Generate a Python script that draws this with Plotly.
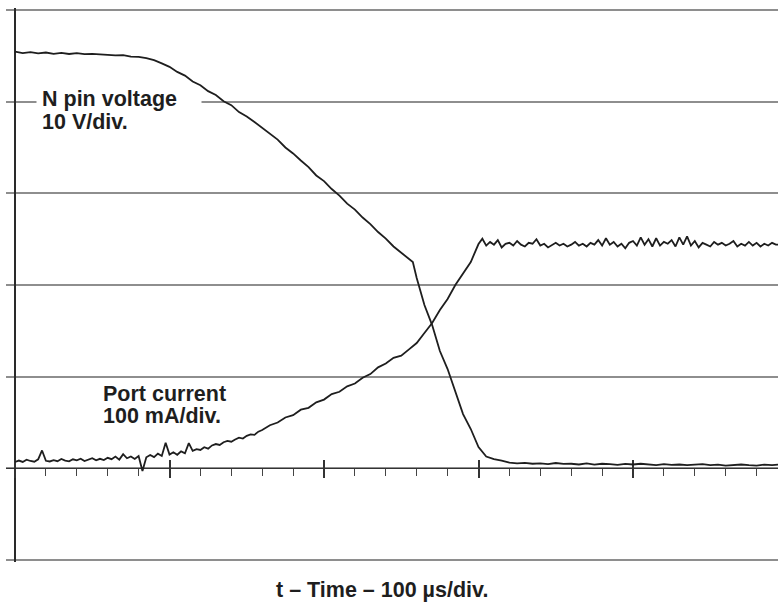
import plotly.graph_objects as go

# ---------------- data ----------------
# N pin voltage, volts (10 V/div), time in microseconds (100 us/div)
v_time = [0, 5, 10, 15, 20, 25, 30, 35, 40, 45, 50, 55, 60, 65, 70, 75, 80, 85,
          90, 95, 100, 105, 110, 115, 120, 125, 130, 135, 140, 145, 150, 155,
          160, 165, 170, 175, 180, 185, 190, 195, 200, 205, 210, 215, 220, 225,
          230, 235, 240, 245, 250, 255, 257.5, 260, 265, 270, 275, 280, 285, 290,
          295, 300, 305, 310, 315, 320, 325, 330, 335, 340, 345, 350, 355, 360,
          365, 370, 375, 380, 385, 390, 395, 400, 405, 410, 415, 420, 425, 430,
          435, 440, 445, 450, 455, 460, 465, 470, 475, 480, 485, 490, 494]
v_volts = [45.45, 45.30, 45.41, 45.26, 45.36, 45.22, 45.32, 45.20, 45.30, 45.18,
           45.21, 45.12, 45.10, 45.05, 45.08, 44.92, 44.89, 44.74, 44.52, 44.18,
           43.80, 43.25, 42.84, 42.20, 41.80, 41.15, 40.72, 40.05, 39.62, 38.86,
           38.38, 37.78, 37.16, 36.50, 35.86, 35.00, 34.35, 33.58, 32.86, 31.95,
           31.33, 30.47, 29.75, 28.88, 28.23, 27.36, 26.65, 25.78, 25.06, 24.20,
           23.52, 22.80, 22.50, 20.76, 17.81, 15.63, 12.80, 10.83, 8.32, 5.92,
           4.29, 2.32, 1.29, 1.01, 0.85, 0.62, 0.55, 0.60, 0.50, 0.55, 0.45,
           0.58, 0.48, 0.50, 0.42, 0.55, 0.40, 0.50, 0.45, 0.38, 0.48, 0.42,
           0.50, 0.40, 0.35, 0.45, 0.38, 0.42, 0.35, 0.40, 0.45, 0.35, 0.40,
           0.30, 0.38, 0.42, 0.35, 0.30, 0.40, 0.35, 0.40]

# Port current, milliamps (100 mA/div)
i_time = [0, 2.5, 5, 7.5, 10, 12.5, 15, 17.5, 20, 22.5, 25, 27.5, 30, 32.5, 35,
          37.5, 40, 42.5, 45, 47.5, 50, 52.5, 55, 57.5, 60, 62.5, 65, 67.5, 70,
          72.5, 75, 77.5, 80, 82.5, 85, 87.5, 90, 92.5, 95, 97.5, 100, 102.5,
          105, 107.5, 110, 112.5, 115, 117.5, 120, 122.5, 125, 127.5, 130, 132.5,
          135, 137.5, 140, 142.5, 145, 147.5, 150, 152.5, 155, 157.5,
          160, 165, 170, 175, 180, 185, 190, 195, 200, 205, 210, 215, 220, 225,
          230, 235, 240, 245, 250, 255, 260, 265, 270, 275, 280, 285, 290, 295,
          300, 302.5,
          305, 307.5, 310, 312.5, 315, 317.5, 320, 322.5, 325, 327.5, 330, 332.5,
          335, 337.5, 340, 342.5, 345, 347.5, 350, 352.5, 355, 357.5, 360, 362.5,
          365, 367.5, 370, 372.5, 375, 377.5, 380, 382.5, 385, 387.5, 390, 392.5,
          395, 397.5, 400, 402.5, 405, 407.5, 410, 412.5, 415, 417.5, 420, 422.5,
          425, 427.5, 430, 432.5, 435, 437.5, 440, 442.5, 445, 447.5, 450, 452.5,
          455, 457.5, 460, 462.5, 465, 467.5, 470, 472.5, 475, 477.5, 480, 482.5,
          485, 487.5, 490, 492.5, 494]
i_ma = [6.9, 8.5, 7.0, 9.5, 8.0, 7.2, 9.8, 19.5, 8.2, 7.5, 9.0, 7.8, 10.2, 8.4,
        7.6, 9.9, 8.8, 10.5, 8.0, 9.6, 11.0, 8.7, 10.4, 9.1, 11.5, 10.0, 12.8,
        9.5, 15.5, 11.0, 13.0, 10.2, 13.5, -3.0, 12.0, 14.5, 12.2, 16.0, 13.5,
        28.0, 15.0, 17.5, 14.8, 18.5, 16.5, 27.5, 19.0, 21.0, 20.0, 23.0, 21.5,
        25.0, 26.5, 25.5, 28.5, 30.0, 29.0, 31.5, 33.5, 32.5, 35.5, 37.0, 36.5,
        40.0,
        41.8, 47.0, 50.0, 55.5, 58.0, 64.0, 66.0, 72.0, 75.0, 81.0, 83.5, 89.5,
        92.5, 98.8, 102.8, 110.2, 114.3, 120.6, 123.0, 129.8, 136.7, 147.6,
        158.5, 172.7, 184.7, 200.0, 213.1, 225.1, 244.7, 250.5,
        243, 247, 244, 249, 241, 245, 246, 243, 248, 244, 242, 246, 245, 250,
        243, 245, 241, 244, 246, 243, 245, 242, 244, 247, 243, 245, 242, 246,
        244, 249, 243, 251, 244, 247, 242, 245, 240, 246, 248, 243, 252, 244,
        250, 242, 251, 243, 247, 245, 249, 242, 252, 244, 253, 243, 248, 241,
        246, 244, 242, 247, 244, 246, 243, 245, 248, 242, 245, 243, 247, 243,
        246, 242, 245, 243, 246, 244, 244]

x_title = "t – Time – 100 µs/div."
v_label = ["N pin voltage", "10 V/div."]
i_label = ["Port current", "100 mA/div."]

# ---------------- layout geometry ----------------
W, H = 778, 603
PAD = 2                    # extra px so edge grid lines are drawn
ML, MR, MT, MB = 6, 0, 10 - PAD, 43 - PAD
PX_PER_US = 1.545          # 154.5 px per 100 us division
PX_PER_DIV_Y = 550 / 6     # vertical division height
AXIS_X_PX = 15             # pixel column of t = 0
plot_w = W - ML - MR
plot_h = H - MT - MB
x_lo = (ML - AXIS_X_PX) / PX_PER_US
x_hi = (W - MR - AXIS_X_PX) / PX_PER_US
v_pad = PAD * 10 / PX_PER_DIV_Y
i_pad = PAD * 100 / PX_PER_DIV_Y


def px_x(px):
    return (px - ML) / plot_w


def px_y(py):
    return (H - MB - py) / plot_h


FONT = "Liberation Sans, Arial, Helvetica, sans-serif"
INK = "#1e1e1e"
GRID = "#8e8e8e"

fig = go.Figure()
fig.add_trace(go.Scatter(x=v_time, y=v_volts, mode="lines",
                         line=dict(color=INK, width=1.8), yaxis="y",
                         xaxis="x", showlegend=False, hoverinfo="skip"))
fig.add_trace(go.Scatter(x=i_time, y=i_ma, mode="lines",
                         line=dict(color=INK, width=1.8), yaxis="y2",
                         xaxis="x", showlegend=False, hoverinfo="skip"))
# invisible trace to activate xaxis2 (major tick marks pointing up)
fig.add_trace(go.Scatter(x=[x_lo], y=[0], xaxis="x2", yaxis="y",
                         mode="markers", marker=dict(opacity=0),
                         showlegend=False, hoverinfo="skip"))

fig.update_layout(
    width=W, height=H,
    margin=dict(l=ML, r=MR, t=MT, b=MB, pad=0),
    paper_bgcolor="white", plot_bgcolor="white",
    showlegend=False,
    xaxis=dict(range=[x_lo, x_hi], anchor="free", position=px_y(468.3),
               showgrid=False, zeroline=False, showline=True,
               linecolor="#333333", linewidth=1.2,
               ticks="outside", ticklen=9, tickwidth=1.5, tickcolor="#333333",
               tick0=0, dtick=100, showticklabels=False,
               minor=dict(ticks="outside", ticklen=7, tickwidth=1,
                          tickcolor="#444444", tick0=0, dtick=20,
                          showgrid=False),
               layer="below traces", fixedrange=True),
    xaxis2=dict(range=[x_lo, x_hi], overlaying="x", anchor="free",
                position=px_y(468.3), showgrid=False, zeroline=False,
                showline=False, ticks="inside", ticklen=8, tickwidth=1.5,
                tickcolor="#333333", tick0=0, dtick=100,
                showticklabels=False, layer="below traces"),
    yaxis=dict(range=[-10 - v_pad, 50 + v_pad], domain=[0, 1], anchor="free",
               position=px_x(AXIS_X_PX), showline=True,
               linecolor="#2a2a2a", linewidth=1.5,
               showgrid=True, gridcolor=GRID, gridwidth=1.6,
               tick0=0, dtick=10, ticks="", showticklabels=False,
               zeroline=False, layer="below traces", fixedrange=True),
    yaxis2=dict(range=[-100 - i_pad, 500 + i_pad], overlaying="y",
                visible=False, showgrid=False, zeroline=False),
)

afont = dict(family=FONT, size=21.5, color=INK, weight="bold")

# white gap in the grid line behind the voltage label
fig.add_annotation(text=" ", xref="paper", yref="paper",
                   x=px_x(36), y=px_y(101.7), xanchor="left",
                   yanchor="middle", showarrow=False, bgcolor="white",
                   borderpad=0, width=164, height=6,
                   font=dict(size=4))
fig.add_annotation(text=v_label[0], xref="paper", yref="paper",
                   x=px_x(39.5), y=px_y(98.7), xanchor="left",
                   yanchor="middle", showarrow=False, font=afont,
                   borderpad=1, align="left")
fig.add_annotation(text=v_label[1], xref="paper", yref="paper",
                   x=px_x(39.5), y=px_y(122), xanchor="left",
                   yanchor="middle", showarrow=False, font=afont,
                   borderpad=1, align="left")
fig.add_annotation(text=i_label[0], xref="paper", yref="paper",
                   x=px_x(100.5), y=px_y(394.4), xanchor="left",
                   yanchor="middle", showarrow=False, font=afont,
                   borderpad=1, align="left")
fig.add_annotation(text=i_label[1], xref="paper", yref="paper",
                   x=px_x(100.5), y=px_y(416), xanchor="left",
                   yanchor="middle", showarrow=False, font=afont,
                   borderpad=1, align="left")
fig.add_annotation(text=x_title, xref="paper", yref="paper",
                   x=px_x(382), y=px_y(590.3), xanchor="center",
                   yanchor="middle", showarrow=False, font=afont,
                   borderpad=0)

fig.write_html("out.html")
